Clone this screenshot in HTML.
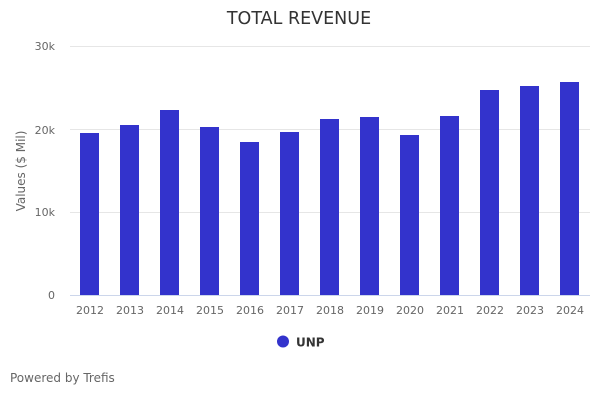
<!DOCTYPE html>
<html><head><meta charset="utf-8"><style>
html,body{margin:0;padding:0;background:#fff;}
svg{display:block;font-family:"DejaVu Sans","Liberation Sans",sans-serif;}
</style></head><body>
<svg width="600" height="400" viewBox="0 0 600 400" xmlns="http://www.w3.org/2000/svg">
<rect width="600" height="400" fill="#fff"/>
<text x="299" y="24" text-anchor="middle" font-size="17.5" fill="#333">TOTAL REVENUE</text>
<g stroke="#e6e6e6" stroke-width="1">
<line x1="70" y1="46.5" x2="590" y2="46.5"/>
<line x1="70" y1="129.5" x2="590" y2="129.5"/>
<line x1="70" y1="212.5" x2="590" y2="212.5"/>
</g>
<g font-size="11" fill="#666" text-anchor="end">
<text x="55" y="50">30k</text>
<text x="55" y="134">20k</text>
<text x="55" y="216">10k</text>
<text x="55" y="299">0</text>
</g>
<text transform="translate(25,171) rotate(-90)" text-anchor="middle" font-size="12" fill="#666">Values ($ Mil)</text>
<g fill="#3333cc">
<rect x="80" y="133" width="19" height="162"/>
<rect x="120" y="125" width="19" height="170"/>
<rect x="160" y="110" width="19" height="185"/>
<rect x="200" y="127" width="19" height="168"/>
<rect x="240" y="142" width="19" height="153"/>
<rect x="280" y="132" width="19" height="163"/>
<rect x="320" y="119" width="19" height="176"/>
<rect x="360" y="117" width="19" height="178"/>
<rect x="400" y="135" width="19" height="160"/>
<rect x="440" y="116" width="19" height="179"/>
<rect x="480" y="90" width="19" height="205"/>
<rect x="520" y="86" width="19" height="209"/>
<rect x="560" y="82" width="19" height="213"/>
</g>
<line x1="70" y1="295.5" x2="590" y2="295.5" stroke="#ccd6eb" stroke-width="1"/>
<g font-size="11" fill="#666" text-anchor="middle">
<text x="90" y="314">2012</text>
<text x="130" y="314">2013</text>
<text x="170" y="314">2014</text>
<text x="210" y="314">2015</text>
<text x="250" y="314">2016</text>
<text x="290" y="314">2017</text>
<text x="330" y="314">2018</text>
<text x="370" y="314">2019</text>
<text x="410" y="314">2020</text>
<text x="450" y="314">2021</text>
<text x="490" y="314">2022</text>
<text x="530" y="314">2023</text>
<text x="570" y="314">2024</text>
</g>
<circle cx="283" cy="341.5" r="6" fill="#3333cc"/>
<text x="296" y="346.5" font-size="12" font-weight="bold" fill="#333">UNP</text>
<text x="10" y="382" font-size="12" fill="#666">Powered by Trefis</text>
</svg>
</body></html>
